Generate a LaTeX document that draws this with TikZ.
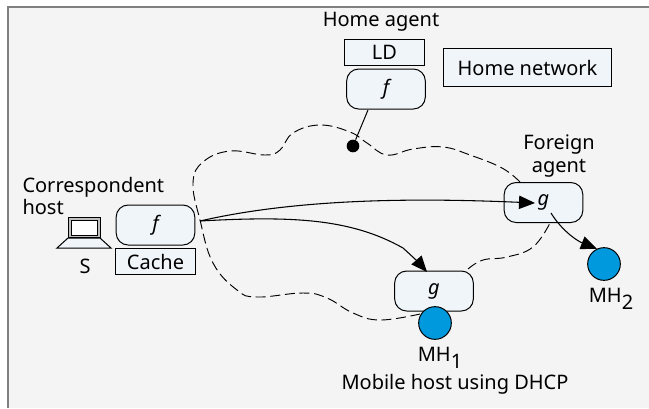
\documentclass[tikz,border=0pt]{standalone}
\usepackage{fontspec}
\setmainfont{Noto Sans}
\usetikzlibrary{positioning,
	arrows.meta}
\definecolor{boxfill}{HTML}{F0F5FA}
\definecolor{hostblue}{HTML}{0099DD}
\definecolor{pagegray}{HTML}{F4F4F4}
\tikzstyle{agent}=[draw, fill=boxfill, rounded corners=9pt, minimum width=59pt, minimum height=30pt, inner sep=0, font=\fontsize{15}{17}\selectfont\itshape]
\tikzstyle{store}=[draw, fill=boxfill, minimum width=59.5pt, minimum height=19.5pt, inner sep=0]
\tikzstyle{mobile}=[draw, circle, fill=hostblue, minimum size=24.5pt, inner sep=0]
\tikzstyle{txt}=[inner sep=0, align=center]
\tikzstyle{route}=[-{Triangle[length=12pt,width=10pt]}, line width=0.8pt]
\tikzstyle{net}=[dash pattern=on 7.5pt off 3.5pt, line width=0.7pt]

\begin{document}
\begin{tikzpicture}[x=0.75pt, y=-0.75pt, font=\fontsize{15}{17}\selectfont, line width=0.75pt]
            \useasboundingbox (0,0) rectangle (649,408);
            \fill[pagegray] (8,7) rectangle (649,408);
            \draw[gray, line width=2pt] (8,408) -- (8,7) -- (649,7);
            % network outline
            \draw[net] plot[smooth, tension=0.7] coordinates {(520,182) (502,168) (470,155) (443,147) (413,149) (387,155) (367,143) (350,132) (320,125) (293,133) (280,150) (265,155) (230,151) (203,162) (193,183) (200,220) (213,263) (237,290) (257,297) (303,293) (327,298) (353,313) (380,320) (420,314)};
            \draw[net] plot[smooth, tension=0.7] coordinates {(468,269) (483,260) (507,257) (533,247) (550,223)};
            % home side
            \node[agent] (fha) at (386,89) {f};
            \node[store, above=2pt of fha.north west, anchor=south west, xshift=-1.5pt] (ld) {LD};
            \node[txt] (hatxt) at (381,22) {Home agent};
            \node[draw, fill=boxfill, minimum width=126.5pt, minimum height=29pt, inner sep=0] (hnet) at (527.5,67.5) {Home network};
            \node[circle, fill=black, minimum size=9.5pt, inner sep=0] (hdot) at (353,146) {};
            \draw (368,110) coordinate (hout) -- (hdot);
            % correspondent side
            \node[agent] (fch) at (155.5,225) {f};
            \node[store, below=2pt of fch] (cache) {Cache};
            \node[txt, anchor=west] (chtxt) at (22,187) {Correspondent};
            \node[txt, anchor=west] (hosttxt) at (22,207) {host};
            \node[txt] (stxt) at (85,266) {S};
            \filldraw[fill=boxfill] (57,248) -- (68,238) -- (100,238) -- (111,248) -- cycle;
            \filldraw[fill=gray!50] (68,217) rectangle (100,237);
            \filldraw[fill=white] (71,220) rectangle (97,235);
            % foreign side
            \node[agent] (gfa) at (543.5,202.5) {g};
            \node[txt] (fatxt) at (559,156) {Foreign\\agent};
            \node[agent] (gmh) at (434,291) {g};
            \node[mobile] (mh1) at (435,323) {};
            \node[mobile] (mh2) at (604,264) {};
            \node[txt] (mh1txt) at (440,358) {MH\raisebox{-5pt}{1}};
            \node[txt] (mh2txt) at (611,299) {MH\raisebox{-5pt}{2}};
            \node[txt] (dhcp) at (455,384) {Mobile host using DHCP};
            % routes
            \coordinate (fout) at (200,221);
            \coordinate (gin) at (535,203);
            \coordinate (gmhin) at (427,272);
            \coordinate (gout) at (551,213);
            \draw[route] (fout) .. controls (300,198) and (420,198) .. (gin);
            \draw[route] (fout) .. controls (290,216) and (350,218) .. (403,248) .. controls (412,256) and (420,264) .. (gmhin);
            \draw[route] (gout) .. controls (560,228) and (575,240) .. (mh2.115);
        \end{tikzpicture}
\end{document}
